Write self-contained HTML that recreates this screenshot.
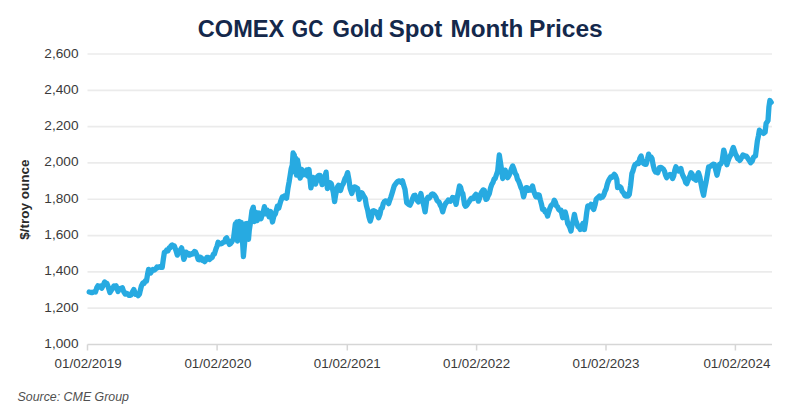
<!DOCTYPE html>
<html><head><meta charset="utf-8">
<style>
html,body{margin:0;padding:0;background:#fff;}
body{width:800px;height:418px;overflow:hidden;position:relative;}
svg{position:absolute;left:0;top:0;}
text{font-family:"Liberation Sans",sans-serif;}
</style></head><body>
<svg width="800" height="418" viewBox="0 0 800 418">
<rect x="0" y="0" width="800" height="418" fill="#ffffff"/>
<g font-size="23" font-weight="bold" fill="#14284b"><text x="197.8" y="37" textLength="86.4" lengthAdjust="spacingAndGlyphs">COMEX</text><text x="291.8" y="37" textLength="31.5" lengthAdjust="spacingAndGlyphs">GC</text><text x="332.6" y="37" textLength="50.9" lengthAdjust="spacingAndGlyphs">Gold</text><text x="388.8" y="37" textLength="53.5" lengthAdjust="spacingAndGlyphs">Spot</text><text x="450.6" y="37" textLength="72.7" lengthAdjust="spacingAndGlyphs">Month</text><text x="529.0" y="37" textLength="73.8" lengthAdjust="spacingAndGlyphs">Prices</text></g>
<g stroke="#ebebeb" stroke-width="1.7">
<line x1="87.5" y1="308.19" x2="772.0" y2="308.19" />
<line x1="87.5" y1="271.88" x2="772.0" y2="271.88" />
<line x1="87.5" y1="235.56" x2="772.0" y2="235.56" />
<line x1="87.5" y1="199.25" x2="772.0" y2="199.25" />
<line x1="87.5" y1="162.94" x2="772.0" y2="162.94" />
<line x1="87.5" y1="126.62" x2="772.0" y2="126.62" />
<line x1="87.5" y1="90.31" x2="772.0" y2="90.31" />
<line x1="87.5" y1="54.00" x2="772.0" y2="54.00" />
</g>
<g stroke="#d6d6d6" stroke-width="1.5">
<line x1="87.5" y1="344.5" x2="772.0" y2="344.5" />
<line x1="87.5" y1="344.5" x2="87.5" y2="350.5" />
<line x1="217.1" y1="344.5" x2="217.1" y2="350.5" />
<line x1="347.3" y1="344.5" x2="347.3" y2="350.5" />
<line x1="476.6" y1="344.5" x2="476.6" y2="350.5" />
<line x1="606.0" y1="344.5" x2="606.0" y2="350.5" />
<line x1="735.4" y1="344.5" x2="735.4" y2="350.5" />
</g>
<g font-size="13" fill="#3a3a3a" text-anchor="end">
<text transform="translate(78.5,348.00) scale(1.05,1)">1,000</text>
<text transform="translate(78.5,311.69) scale(1.05,1)">1,200</text>
<text transform="translate(78.5,275.38) scale(1.05,1)">1,400</text>
<text transform="translate(78.5,239.06) scale(1.05,1)">1,600</text>
<text transform="translate(78.5,202.75) scale(1.05,1)">1,800</text>
<text transform="translate(78.5,166.44) scale(1.05,1)">2,000</text>
<text transform="translate(78.5,130.12) scale(1.05,1)">2,200</text>
<text transform="translate(78.5,93.81) scale(1.05,1)">2,400</text>
<text transform="translate(78.5,57.50) scale(1.05,1)">2,600</text>
</g>
<g font-size="13" fill="#3a3a3a" text-anchor="middle">
<text transform="translate(88.1,368.2) scale(1.03,1)">01/02/2019</text>
<text transform="translate(217.9,368.2) scale(1.03,1)">01/02/2020</text>
<text transform="translate(347.3,368.2) scale(1.03,1)">01/02/2021</text>
<text transform="translate(476.6,368.2) scale(1.03,1)">01/02/2022</text>
<text transform="translate(606.0,368.2) scale(1.03,1)">01/02/2023</text>
<text transform="translate(736.9,368.2) scale(1.03,1)">01/02/2024</text>
</g>
<text transform="translate(29,199.6) rotate(-90)" text-anchor="middle" font-size="13.5" font-weight="bold" fill="#2a2a2a">$/troy ounce</text>
<polyline points="89.2,292.0 91.0,292.5 92.7,292.5 94.1,291.7 95.5,292.0 96.7,287.9 97.9,285.8 99.2,287.1 100.4,286.1 101.7,288.2 103.2,285.2 104.6,282.0 105.7,283.0 106.9,283.5 108.0,286.3 109.9,292.5 111.3,290.4 112.8,288.2 113.9,286.0 115.0,286.4 116.1,285.8 118.0,291.5 119.1,289.3 120.2,288.4 121.2,288.4 122.3,287.7 123.8,291.8 125.2,294.0 126.4,293.2 127.6,293.9 128.8,295.4 130.0,295.4 131.3,294.8 132.5,291.8 133.8,289.6 135.7,294.4 137.0,294.0 138.2,295.6 139.5,294.0 140.0,291.7 141.4,286.0 142.9,283.0 144.1,283.4 145.3,281.0 146.5,281.0 147.6,274.1 148.6,269.4 149.7,270.1 150.8,273.0 151.9,270.6 152.9,269.4 154.4,270.0 155.8,268.7 157.0,267.0 158.2,267.5 159.4,266.6 160.8,267.4 162.2,267.3 163.3,259.4 164.4,252.2 165.6,251.9 166.8,250.0 168.0,250.8 169.1,248.0 170.1,247.9 171.0,245.8 172.1,245.0 173.3,246.5 174.4,246.0 175.9,250.3 177.3,255.1 178.4,252.7 179.4,251.8 180.5,249.6 181.6,247.9 182.7,253.0 183.8,259.4 184.9,256.7 185.9,252.2 187.1,253.8 188.3,253.4 189.5,255.1 190.5,254.6 191.5,253.7 192.5,254.1 193.5,252.9 194.5,251.5 195.5,251.9 196.8,255.0 198.2,259.4 199.3,259.8 200.4,257.3 201.4,257.8 202.5,260.5 203.6,260.8 204.7,261.6 205.8,260.2 206.8,257.3 208.2,257.3 209.5,259.4 210.8,258.3 212.2,257.3 213.3,254.3 214.4,254.0 216.0,248.7 217.1,246.0 218.1,242.2 219.4,243.8 220.8,243.8 222.2,243.2 223.5,242.2 224.6,241.9 225.6,238.8 226.7,237.9 228.1,241.7 229.4,244.4 230.5,243.6 231.6,242.2 232.6,240.3 233.6,238.0 235.3,224.0 236.0,238.0 236.8,222.0 237.5,241.0 238.5,228.0 239.5,221.5 240.5,236.0 241.3,222.5 242.4,239.4 243.4,256.5 244.8,241.0 245.5,232.0 246.0,223.7 246.8,238.0 247.3,223.5 248.5,239.3 249.3,230.0 250.5,222.3 251.9,211.0 253.3,207.2 254.3,221.6 255.7,212.0 257.2,220.6 259.1,213.0 261.0,218.7 262.4,213.9 263.4,211.3 264.4,206.7 265.8,213.9 267.2,210.1 269.1,216.8 270.6,211.5 272.5,222.0 273.9,215.8 275.4,213.9 277.3,206.3 278.7,208.2 280.6,201.5 282.3,197.0 283.4,197.8 284.5,196.0 285.6,197.0 286.6,198.1 288.0,188.0 289.1,182.0 290.2,175.1 291.2,168.7 292.3,165.0 293.1,153.0 294.3,155.0 294.8,172.0 295.5,158.0 296.5,175.0 297.5,160.0 298.5,166.0 299.5,176.0 300.2,178.0 301.7,169.4 303.0,175.0 304.5,172.0 305.6,171.7 306.7,170.1 307.5,176.0 309.0,169.5 310.9,187.9 311.9,183.1 312.9,177.4 314.2,182.2 315.5,184.0 316.5,181.3 317.5,176.7 318.8,175.4 320.1,175.4 321.1,179.7 322.1,184.6 323.4,180.7 324.8,176.9 326.1,172.1 327.4,188.6 329.3,184.6 330.3,182.8 331.3,183.9 332.3,188.1 333.3,192.5 334.6,201.7 335.6,195.1 336.6,190.5 337.6,186.8 338.6,185.3 340.5,190.5 341.9,185.9 343.2,183.9 345.0,178.7 346.3,176.5 347.6,172.6 348.9,179.4 350.1,188.5 351.8,193.5 353.1,189.4 354.3,186.8 355.4,187.0 356.5,189.0 357.6,188.5 359.3,199.4 360.6,194.8 361.8,192.7 362.9,194.5 364.1,196.7 365.2,198.5 366.4,205.6 367.7,210.3 368.9,216.7 370.2,221.1 371.4,217.2 372.7,211.1 373.8,210.7 374.9,211.4 376.0,211.9 377.3,214.4 378.6,217.8 379.9,214.4 381.1,208.6 382.2,208.1 383.2,203.8 384.2,201.9 385.3,201.0 386.4,201.1 387.5,201.9 388.6,203.6 389.7,200.2 390.9,197.1 392.0,193.5 393.1,189.7 394.2,185.9 395.3,184.3 396.4,182.9 397.6,181.6 398.7,180.9 400.0,181.1 401.2,182.3 402.5,180.9 403.8,185.7 405.0,189.3 406.7,202.7 407.8,203.6 408.9,204.7 410.0,205.2 411.3,202.4 412.6,198.5 413.9,195.5 415.1,195.2 416.2,198.6 417.3,200.5 418.4,201.9 419.6,198.8 420.9,193.5 421.9,199.0 423.0,202.4 424.1,207.0 425.1,211.9 426.8,199.4 427.9,197.4 429.1,198.1 430.2,196.9 431.3,194.7 432.4,193.9 433.5,194.3 434.6,195.4 435.8,197.2 436.9,200.2 438.0,201.4 439.1,202.2 440.2,205.2 441.4,207.1 442.7,211.9 443.8,207.8 445.0,204.6 446.1,202.7 447.2,201.7 448.3,200.1 449.4,201.0 450.4,201.3 451.5,199.7 452.6,197.5 453.6,197.7 454.9,200.3 456.1,204.4 457.2,197.8 458.4,191.7 459.5,186.0 460.6,187.4 461.7,192.0 462.8,193.5 464.5,204.4 465.6,206.3 466.7,205.3 467.8,203.5 468.9,201.9 470.0,200.3 471.1,198.5 472.3,198.0 473.4,198.6 474.6,196.0 475.9,194.4 477.1,197.0 478.4,201.1 479.6,198.3 480.9,193.6 482.0,191.5 483.2,189.9 484.3,190.2 485.9,199.4 487.0,198.8 488.2,195.6 489.3,193.6 490.6,187.9 491.8,184.4 492.9,182.6 494.1,179.0 495.2,178.5 496.4,174.8 497.7,171.0 499.3,155.0 501.0,165.9 502.7,178.5 503.9,175.7 505.2,170.1 506.4,175.0 507.7,177.7 508.9,175.7 510.2,172.6 511.5,168.5 512.7,165.9 514.0,169.3 515.3,173.5 516.4,175.0 517.5,179.3 518.6,181.0 519.7,183.9 520.9,187.4 522.0,189.4 523.6,196.9 524.9,191.8 526.1,187.7 527.2,187.7 528.4,190.3 529.5,190.2 530.5,190.2 531.5,188.4 532.5,185.9 533.6,190.5 534.8,194.1 535.9,196.8 537.0,197.0 538.1,194.8 539.2,195.1 540.3,199.9 541.5,204.2 542.6,209.4 543.9,209.2 545.1,211.9 546.4,212.6 547.6,216.1 548.7,212.1 549.8,208.6 550.9,206.0 552.0,204.6 553.2,203.5 554.3,200.2 555.4,202.3 556.5,206.0 557.6,206.9 558.7,209.5 559.9,210.5 561.0,210.2 562.7,217.7 564.0,214.4 565.2,211.9 566.5,216.9 567.7,223.6 568.8,225.3 569.9,227.7 571.0,231.1 572.1,224.6 573.3,220.3 574.4,214.4 575.6,220.2 576.9,223.6 578.0,226.6 579.2,227.5 580.3,229.5 581.5,227.0 582.8,223.6 584.4,229.5 585.5,222.6 586.7,212.6 587.8,206.0 588.9,205.9 590.0,206.1 591.1,204.3 592.4,207.7 593.7,209.4 595.0,205.1 596.2,199.3 597.3,198.1 598.4,197.0 599.4,196.0 600.5,197.9 601.5,196.5 602.5,197.0 603.8,195.0 605.0,191.1 606.1,189.1 607.3,184.1 608.4,181.0 609.6,178.7 610.9,176.9 612.0,177.4 613.2,175.8 614.3,174.3 615.5,175.9 616.8,179.4 617.6,187.7 618.7,186.6 619.9,186.7 621.0,187.7 622.2,191.5 623.5,192.8 624.8,195.4 626.0,196.1 627.1,194.5 628.2,195.9 629.3,194.4 630.6,185.4 631.9,173.5 633.0,170.9 634.1,166.9 635.2,164.3 636.3,164.2 637.5,162.7 638.6,163.5 639.9,158.2 641.1,155.9 642.4,161.1 643.6,163.5 644.9,164.3 646.1,164.3 647.4,159.3 648.6,154.2 649.7,156.9 650.9,156.8 652.0,158.4 653.2,165.4 654.5,170.2 655.6,172.0 656.7,171.0 657.8,172.7 659.5,167.6 660.8,167.4 662.1,168.1 663.4,169.3 664.5,171.3 665.6,175.2 666.7,177.7 667.8,175.9 669.0,175.3 670.1,174.4 671.4,175.4 672.6,178.6 673.7,175.9 674.8,170.3 675.9,166.8 677.1,168.8 678.4,171.0 679.6,170.0 680.9,168.5 682.2,173.9 683.5,176.9 684.6,178.9 685.7,182.6 686.8,183.6 687.8,180.9 688.9,178.2 690.0,175.5 691.0,172.7 692.2,174.2 693.5,178.6 694.8,179.2 696.0,180.2 697.2,175.5 698.5,172.7 699.8,176.7 701.0,183.6 702.3,190.3 703.6,195.3 704.9,187.6 706.1,181.9 707.4,174.3 708.6,166.8 709.7,166.9 710.8,165.9 711.9,165.2 713.1,164.2 714.4,164.3 715.7,169.8 717.0,175.2 718.2,169.9 719.5,164.3 720.8,163.9 722.0,161.8 723.7,150.1 724.8,153.8 725.8,160.0 726.9,164.7 728.0,161.1 729.0,158.3 730.1,156.1 731.2,154.1 732.2,150.4 733.3,147.5 734.4,150.6 735.5,154.0 736.6,156.1 737.7,158.8 738.7,158.8 739.8,160.4 740.9,158.9 741.9,156.8 743.0,155.0 744.1,155.4 745.2,156.3 746.3,156.1 747.4,157.6 748.5,159.5 749.6,161.0 750.7,162.7 752.2,161.2 753.6,157.0 755.5,156.0 757.4,140.7 758.4,136.0 759.4,130.2 760.8,132.3 762.2,132.1 763.7,133.4 765.1,132.1 766.1,123.5 768.0,120.6 768.9,107.2 769.9,100.5 771.2,102.4" fill="none" stroke="#27aae1" stroke-width="5.3" stroke-linejoin="round" stroke-linecap="round"/>
<text x="17.5" y="401" textLength="111.5" lengthAdjust="spacingAndGlyphs" font-size="12.2" font-style="italic" fill="#505050">Source: CME Group</text>
</svg>
</body></html>
